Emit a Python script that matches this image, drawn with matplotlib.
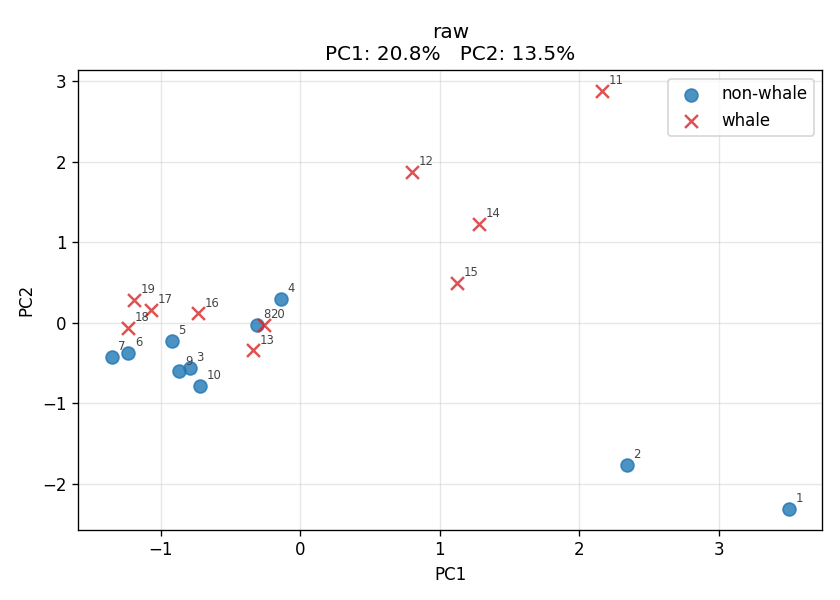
import matplotlib
matplotlib.use('Agg')
import matplotlib.pyplot as plt
import numpy as np

# PCA scores
ids_non = [1, 2, 3, 4, 5, 6, 7, 8, 9, 10]
pc1_non = [3.50, 2.34, -0.79, -0.14, -0.92, -1.23, -1.35, -0.31, -0.87, -0.72]
pc2_non = [-2.31, -1.76, -0.56, 0.30, -0.22, -0.37, -0.42, -0.02, -0.60, -0.78]

ids_whale = [11, 12, 13, 14, 15, 16, 17, 18, 19, 20]
pc1_whale = [2.16, 0.80, -0.34, 1.28, 1.12, -0.73, -1.07, -1.23, -1.19, -0.26]
pc2_whale = [2.88, 1.88, -0.34, 1.23, 0.50, 0.12, 0.16, -0.06, 0.29, -0.02]

var_pc1 = 20.8
var_pc2 = 13.5

fig, ax = plt.subplots(figsize=(7, 5), dpi=120)

ax.scatter(pc1_non, pc2_non, s=60, c='tab:blue', alpha=0.8, label='non-whale', zorder=3)
ax.scatter(pc1_whale, pc2_whale, s=60, c='tab:red', marker='x', alpha=0.8,
           linewidths=1.5, label='whale', zorder=3)

for i, x, y in zip(ids_non + ids_whale, pc1_non + pc1_whale, pc2_non + pc2_whale):
    ax.annotate(str(i), (x, y), textcoords='offset points', xytext=(4, 4),
                fontsize=7, color='#444444')

ax.set_xlim(-1.59, 3.74)
ax.set_ylim(-2.57, 3.14)
ax.set_xlabel('PC1')
ax.set_ylabel('PC2')
ax.set_title(f'raw\nPC1: {var_pc1}%   PC2: {var_pc2}%')
ax.grid(True, alpha=0.3)
ax.legend(loc='upper right')

fig.subplots_adjust(left=0.093, right=0.979, top=0.883, bottom=0.117)
fig.savefig('out.png', dpi=120)
